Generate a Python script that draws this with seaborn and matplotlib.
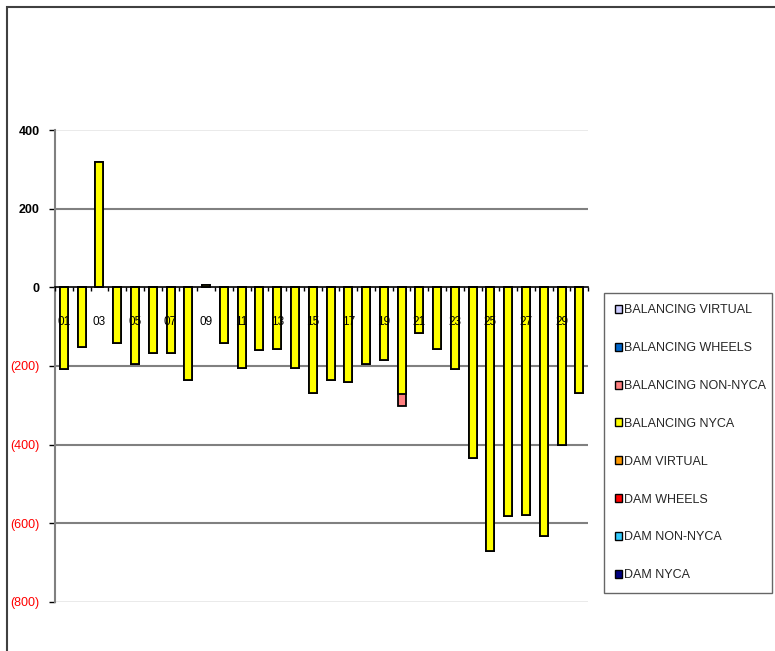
import numpy as np
import pandas as pd
import seaborn as sns
import matplotlib.pyplot as plt
from matplotlib.patches import Patch, Rectangle

# 数据
days = [f"{d:02d}" for d in range(1, 31)]
balancing_nyca = [-209, -152, 320, -141, -196, -168, -168, -236, 7, -141,
                  -206, -159, -156, -206, -270, -235, -242, -195, -185, -272,
                  -117, -158, -209, -434, -670, -583, -580, -633, -401, -270]
balancing_non_nyca = [0] * 19 + [-31] + [0] * 10
balancing_wheels = [0] * 30
balancing_virtual = [0] * 30
dam_nyca = [0] * 30
dam_non_nyca = [0] * 30
dam_wheels = [0] * 30
dam_virtual = [0] * 30

# 堆叠顺序（从零开始）
series = {
    "DAM NYCA": dam_nyca,
    "DAM NON-NYCA": dam_non_nyca,
    "DAM WHEELS": dam_wheels,
    "DAM VIRTUAL": dam_virtual,
    "BALANCING NYCA": balancing_nyca,
    "BALANCING NON-NYCA": balancing_non_nyca,
    "BALANCING WHEELS": balancing_wheels,
    "BALANCING VIRTUAL": balancing_virtual,
}
colors = {
    "DAM NYCA": "#000080",
    "DAM NON-NYCA": "#33CCFF",
    "DAM WHEELS": "#FF0000",
    "DAM VIRTUAL": "#FF9900",
    "BALANCING NYCA": "#FFFF00",
    "BALANCING NON-NYCA": "#FF8080",
    "BALANCING WHEELS": "#0066CC",
    "BALANCING VIRTUAL": "#CCCCFF",
}

df = pd.DataFrame(series, index=days)
cum = df.cumsum(axis=1)

sns.set_theme(style="white")
plt.rcParams['font.family'] = ['Liberation Sans', 'DejaVu Sans']

fig = plt.figure(figsize=(7.75, 6.51), dpi=100)
ax = fig.add_axes([0.071, 0.0757, 0.688, 0.7245])

# 网格线
for lvl in [200, -200, -400, -600]:
    ax.axhline(lvl, color="#808080", lw=1.5, zorder=0.5)
for lvl in [400, -800]:
    ax.axhline(lvl, color="#e6e6e6", lw=1.2, zorder=0.5)

# 堆叠柱状图（从外层到内层绘制）
for name in reversed(list(series.keys())):
    if not np.any(df[name].values):
        continue
    sns.barplot(x=days, y=cum[name].values, color=colors[name], saturation=1,
                edgecolor="black", linewidth=1.3, width=0.45, errorbar=None,
                ax=ax, zorder=2)

ax.set_xlim(-0.5, 29.5)
ax.set_ylim(-800, 400)

# x轴（标签画在柱子上面）
ax.set_xticks(range(0, 30, 2), days[::2])
ax.set_xticks(np.arange(-0.5, 30, 1), minor=True)
ax.tick_params(axis="x", which="major", length=0, pad=21, labelsize=8.5,
               labelcolor="black")
ax.tick_params(axis="x", which="minor", length=3, width=1, color="black",
               direction="out", bottom=True)
ax.set_xlabel("")
ax.xaxis.set_zorder(5)

# y轴：负数红色加括号
yticks = list(range(-800, 401, 200))
ylabels = [f"({abs(v)})" if v < 0 else f"{v}" for v in yticks]
ax.set_yticks(yticks, ylabels)
ax.tick_params(axis="y", length=4, width=1, color="black", labelsize=9,
               left=True, pad=7)
for lab, v in zip(ax.get_yticklabels(), yticks):
    if v < 0:
        lab.set_color("red")
    else:
        lab.set_color("black")
        lab.set_fontweight("bold")

for s in ["top", "right"]:
    ax.spines[s].set_visible(False)
ax.spines["bottom"].set_position(("data", 0))
ax.spines["bottom"].set_color("black")
ax.spines["bottom"].set_linewidth(1.2)
ax.spines["bottom"].set_zorder(4)
ax.spines["left"].set_color("#808080")
ax.spines["left"].set_linewidth(1.5)

# 图例
handles = [Patch(facecolor=colors[n], edgecolor="black", linewidth=1, label=n)
           for n in reversed(list(series.keys()))]
leg = fig.legend(handles=handles, loc="upper left",
                 bbox_to_anchor=(0.779, 0.092, 0.217, 0.458),
                 mode="expand", frameon=True, fancybox=False, shadow=False,
                 fontsize=9, handlelength=0.6, handleheight=0.6,
                 handletextpad=0.15, labelspacing=2.07, borderpad=0.9,
                 borderaxespad=0)
leg.get_frame().set_edgecolor("#404040")
leg.get_frame().set_linewidth(1)

# 外框
fig.add_artist(Rectangle((7 / 775, -0.5), 2, 644 / 651 + 0.5,
                         transform=fig.transFigure, fill=False,
                         edgecolor="#404040", lw=1.5))

fig.savefig("out.png", dpi=100)
